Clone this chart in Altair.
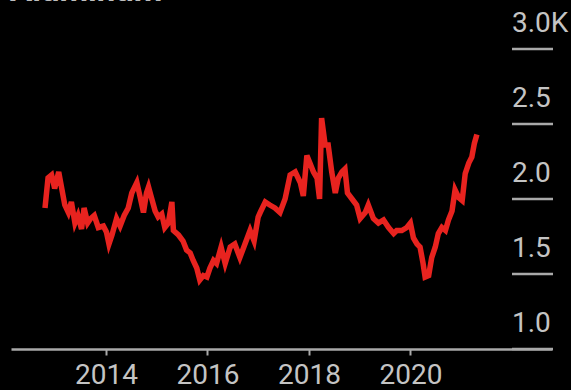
import altair as alt
import pandas as pd

# Aluminum price, thousand USD per tonne, by decimal year
years = [
    2012.80, 2012.86, 2012.93, 2012.99, 2013.07, 2013.13, 2013.19, 2013.26,
    2013.32, 2013.39, 2013.45, 2013.52, 2013.57, 2013.64, 2013.70, 2013.77,
    2013.85, 2013.95, 2014.01, 2014.06, 2014.12, 2014.21, 2014.28, 2014.36,
    2014.44, 2014.51, 2014.61, 2014.67, 2014.74, 2014.80, 2014.84, 2014.88,
    2014.97, 2015.03, 2015.10, 2015.16, 2015.23, 2015.30, 2015.33, 2015.43,
    2015.52, 2015.59, 2015.66, 2015.72, 2015.79, 2015.85, 2015.92, 2015.99,
    2016.05, 2016.12, 2016.18, 2016.27, 2016.35, 2016.45, 2016.54, 2016.64,
    2016.74, 2016.84, 2016.92, 2017.00, 2017.04, 2017.14, 2017.23, 2017.33,
    2017.43, 2017.53, 2017.63, 2017.73, 2017.83, 2017.89, 2017.96, 2018.02,
    2018.09, 2018.16, 2018.21, 2018.25, 2018.32, 2018.38, 2018.45, 2018.52,
    2018.58, 2018.65, 2018.71, 2018.76, 2018.85, 2018.94, 2019.01, 2019.11,
    2019.17, 2019.27, 2019.37, 2019.47, 2019.57, 2019.67, 2019.73, 2019.83,
    2019.93, 2020.00, 2020.06, 2020.13, 2020.19, 2020.25, 2020.29, 2020.36,
    2020.42, 2020.49, 2020.55, 2020.62, 2020.69, 2020.75, 2020.82, 2020.88,
    2020.95, 2021.02, 2021.08, 2021.15, 2021.21, 2021.26, 2021.31,
]
prices = [
    1.94, 2.14, 2.16, 2.07, 2.18, 2.07, 1.96, 1.91,
    1.98, 1.84, 1.89, 1.80, 1.94, 1.84, 1.87, 1.89,
    1.81, 1.82, 1.78, 1.70, 1.76, 1.87, 1.82, 1.89,
    1.94, 2.04, 2.11, 2.02, 1.91, 2.04, 2.08, 2.03,
    1.92, 1.88, 1.90, 1.81, 1.84, 1.98, 1.79, 1.76,
    1.72, 1.66, 1.64, 1.59, 1.54, 1.46, 1.49, 1.48,
    1.54, 1.59, 1.57, 1.68, 1.57, 1.68, 1.70, 1.61,
    1.70, 1.79, 1.72, 1.88, 1.91, 1.98, 1.96, 1.94,
    1.91, 2.00, 2.16, 2.18, 2.11, 2.02, 2.29, 2.24,
    2.18, 2.14, 2.00, 2.54, 2.36, 2.36, 2.18, 2.04,
    2.14, 2.18, 2.20, 2.04, 2.00, 1.96, 1.87, 1.91,
    1.96, 1.87, 1.84, 1.86, 1.81, 1.77, 1.79, 1.79,
    1.81, 1.84, 1.74, 1.70, 1.68, 1.57, 1.48, 1.49,
    1.61, 1.68, 1.77, 1.81, 1.79, 1.86, 1.92, 2.06,
    2.01, 1.99, 2.17, 2.24, 2.28, 2.37, 2.43,
]

# Value axis ticks and their labels
tick_values = [1.0, 1.5, 2.0, 2.5, 3.0]
tick_labels = ["1.0", "1.5", "2.0", "2.5", "3.0K"]
year_ticks = [2014, 2016, 2018, 2020]
title_text = ["Aluminum"]

series = pd.DataFrame({"year": years, "value": prices})
ticks = pd.DataFrame({"value": tick_values, "label": tick_labels})
title_df = pd.DataFrame({"t": title_text})

FONT = "Roboto"
GRAY_TEXT = "#c4c4c4"
GRAY_LINE = "#a9a9a9"
RED = "#e8231f"

x_scale = alt.Scale(domain=[2012.13, 2022.79], nice=False, zero=False)
y_scale = alt.Scale(domain=[1.0, 3.0], nice=False, zero=False)

line = alt.Chart(series).mark_line(
    color=RED, strokeWidth=5.5, strokeJoin="miter"
).encode(
    x=alt.X(
        "year:Q",
        scale=x_scale,
        axis=alt.Axis(
            values=year_ticks,
            format="d",
            title=None,
            grid=False,
            labelFont=FONT,
            labelFontSize=28,
            labelColor=GRAY_TEXT,
            labelPadding=6,
            tickColor=GRAY_LINE,
            tickSize=6,
            tickWidth=2,
            domainColor=GRAY_LINE,
            domainWidth=2.5,
        ),
    ),
    y=alt.Y("value:Q", scale=y_scale, axis=None),
)

tick_marks = alt.Chart(ticks).mark_rule(
    color=GRAY_LINE, strokeWidth=2.5
).encode(
    y=alt.Y("value:Q", scale=y_scale, axis=None),
    x=alt.value(501),
    x2=alt.value(542),
)

tick_text = alt.Chart(ticks).mark_text(
    align="left", baseline="alphabetic", dy=-17,
    font=FONT, fontSize=28, color=GRAY_TEXT,
).encode(
    y=alt.Y("value:Q", scale=y_scale, axis=None),
    x=alt.value(501),
    text="label:N",
)

# Chart heading, mostly above the top edge of the page
title = alt.Chart(title_df).mark_text(
    align="left", baseline="alphabetic",
    font=FONT, fontSize=33, fontWeight="bold", color="#bdbdbd",
).encode(
    x=alt.value(-1),
    y=alt.value(-48),
    text="t:N",
)

chart = alt.layer(line, tick_marks, tick_text, title).properties(
    width=541,
    height=300,
    background="black",
    padding={"left": 11, "top": 49, "right": 19, "bottom": 41},
    autosize=alt.AutoSizeParams(type="none"),
).configure_view(stroke=None)

chart.save("out.html", embed_options={"renderer": "svg", "actions": False})
